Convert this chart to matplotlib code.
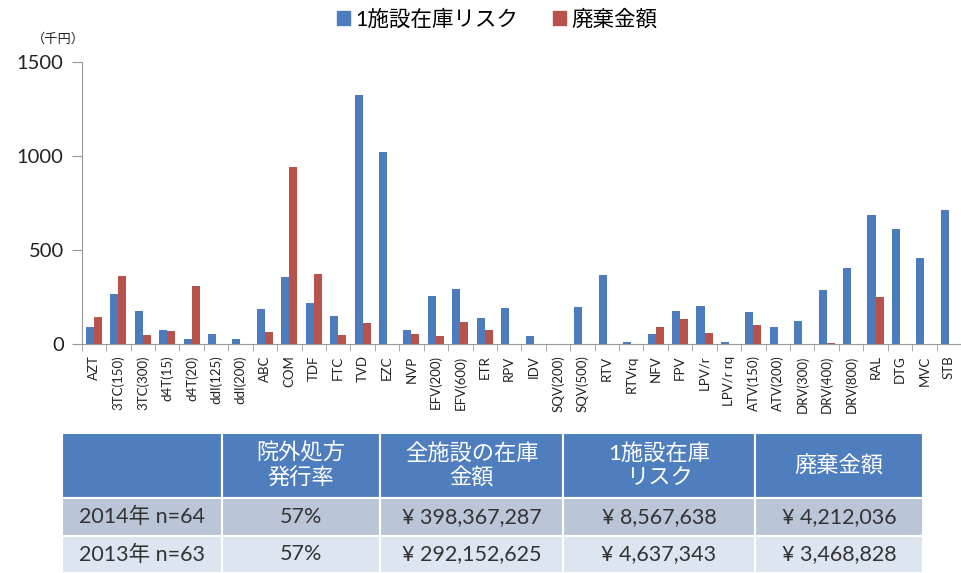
import matplotlib
matplotlib.use("Agg")
import matplotlib.pyplot as plt
from matplotlib.patches import Rectangle, Patch
import numpy as np

plt.rcParams['font.family'] = ['Lato', 'Noto Sans CJK JP', 'DejaVu Sans']

categories = ["AZT", "3TC(150)", "3TC(300)", "d4T(15)", "d4T(20)", "ddI(125)", "ddI(200)",
              "ABC", "COM", "TDF", "FTC", "TVD", "EZC", "NVP", "EFV(200)", "EFV(600)", "ETR",
              "RPV", "IDV", "SQV(200)", "SQV(500)", "RTV", "RTVrq", "NFV", "FPV", "LPV/r",
              "LPV/r rq", "ATV(150)", "ATV(200)", "DRV(300)", "DRV(400)", "DRV(800)", "RAL",
              "DTG", "MVC", "STB"]
risk = [94, 267, 175, 78, 28, 55, 27, 186, 357, 218, 150, 1325, 1022, 78, 255, 295, 140,
        193, 44, 0, 200, 366, 12, 57, 179, 203, 12, 172, 90, 124, 288, 407, 686,
        614, 460, 713]
waste = [145, 363, 50, 71, 310, 3, 3, 64, 941, 371, 50, 111, 0, 57, 46, 120, 74,
         0, 0, 0, 0, 0, 0, 94, 136, 62, 0, 101, 0, 0, 5, 0, 249,
         0, 0, 0]
series_names = ["1施設在庫リスク", "廃棄金額"]
yticks = [0, 500, 1000, 1500]

table_header = ["", "院外処方\n発行率", "全施設の在庫\n金額", "1施設在庫\nリスク", "廃棄金額"]
table_rows = [
    ["2014年 n=64", "57%", "¥ 398,367,287", "¥ 8,567,638", "¥ 4,212,036"],
    ["2013年 n=63", "57%", "¥ 292,152,625", "¥ 4,637,343", "¥ 3,468,828"],
]

W, H = 962, 573
fig = plt.figure(figsize=(W / 100, H / 100), dpi=100)
ax = fig.add_axes([81.7 / W, 1 - 344.3 / H, (961 - 81.7) / W, (344.3 - 61.7) / H])

blue = "#4C7BBE"
red = "#B8534B"
x = np.arange(len(categories))
bw = 0.33
ax.bar(x - bw / 2, risk, bw, color=blue, label=series_names[0])
ax.bar(x + bw / 2, waste, bw, color=red, label=series_names[1])

ax.set_xlim(-0.5, len(categories) - 0.5)
ax.set_ylim(0, 1500)
ax.set_yticks(yticks)
ax.set_yticklabels([str(v) for v in yticks], fontsize=14.5, color="#222222")
ax.tick_params(axis='y', length=7, color="#999999", pad=6)
ax.set_xticks(x)
ax.set_xticklabels(categories, rotation=90, fontsize=9.5, color="#222222")
ax.tick_params(axis='x', which='major', length=0, pad=8)
ax.set_xticks(np.arange(-0.5, len(categories) + 0.5, 1), minor=True)
ax.tick_params(axis='x', which='minor', length=5, color="#999999")
for s in ["top", "right"]:
    ax.spines[s].set_visible(False)
for s in ["left", "bottom"]:
    ax.spines[s].set_color("#999999")

handles = [Patch(color=blue), Patch(color=red)]
fig.legend(handles, series_names, loc="center", bbox_to_anchor=(497 / W, 1 - 19 / H),
           ncol=2, frameon=False, fontsize=15.5, handlelength=0.6, handleheight=0.6,
           handletextpad=0.25, columnspacing=1.6)

fig.text(58 / W, 1 - 38 / H, "（千円）", fontsize=9.5, ha="center", va="center", color="#222222")

# table
col_x = [62, 222, 380, 563, 755, 923]
row_y = [433, 498, 536, 573]
row_colors = ["#4F7EBF", "#BAC6D8", "#DDE5F0"]
for r in range(3):
    for c in range(5):
        x0, x1 = col_x[c], col_x[c + 1]
        y0, y1 = row_y[r], row_y[r + 1]
        fig.patches.append(Rectangle((x0 / W, 1 - y1 / H), (x1 - x0) / W, (y1 - y0) / H,
                                     transform=fig.transFigure, facecolor=row_colors[r],
                                     edgecolor="white", linewidth=1.5))
        if r == 0:
            txt, col, fs = table_header[c], "white", 16
        else:
            txt, col, fs = table_rows[r - 1][c], "#333333", 15.5
        fig.text((x0 + x1) / 2 / W, 1 - (y0 + y1) / 2 / H, txt, ha="center", va="center",
                 fontsize=fs, color=col, linespacing=1.25)

fig.savefig("out.png", dpi=100)
